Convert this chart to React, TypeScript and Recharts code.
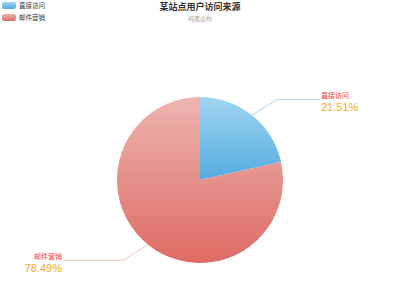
import { PieChart, Pie, Cell } from 'recharts';

// 某站点用户访问来源
const categories = ['直接访问', '邮件营销'];
const visits = [310, 1131];
const topColors = ['#9fd5f2', '#edb5af'];
const bottomColors = ['#55ade0', '#de6b64'];

const title = '某站点用户访问来源';
const subtitle = '纯属虚构';

const chartData = categories.map((name, i) => ({ name, value: visits[i] }));

const RADIAN = Math.PI / 180;
const FONT = '"Liberation Sans", "Noto Sans CJK SC", sans-serif';

function renderLabel(props: any) {
    const { cx, cy, midAngle, outerRadius, percent, name } = props;
    const cos = Math.cos(-midAngle * RADIAN);
    const sin = Math.sin(-midAngle * RADIAN);
    const sx = cx + outerRadius * cos;
    const sy = cy + outerRadius * sin;
    const right = cos >= 0;
    const mx = cx + (outerRadius + 27) * cos + (right ? 8 : -8);
    const my = cy + (outerRadius + 20) * sin;
    const ex = right ? cx + 120 : cx - 137;
    const tx = right ? ex + 1 : ex - 1;
    const anchor = right ? 'start' : 'end';
    const lineColor = right ? '#a9d9f3' : '#f2c3bf';
    return (
        <g>
            <polyline points={`${sx},${sy} ${mx},${my} ${ex},${my}`} fill="none" stroke={lineColor} strokeWidth={1} />
            <text x={tx} y={my - 4} textAnchor={anchor} dominantBaseline="central" fill="#ff3838" fontSize={7} fontFamily={FONT}>
                {name}
            </text>
            <text x={tx} y={my + 7.5} textAnchor={anchor} dominantBaseline="central" fill="#f7a823" fontSize={11} fontFamily={FONT}>
                {(percent * 100).toFixed(2)}%
            </text>
        </g>
    );
}

export default function App() {
    return (
        <div style={{ position: 'absolute', left: 0, top: 0, width: 400, height: 300, background: '#fff', fontFamily: FONT }}>
            {/* 标题 */}
            <div style={{ position: 'absolute', left: 0, top: 1, width: 400, textAlign: 'center', fontSize: 9, fontWeight: 'bold', color: '#333', lineHeight: '12px' }}>
                {title}
            </div>
            <div style={{ position: 'absolute', left: 0, top: 15, width: 400, textAlign: 'center', fontSize: 6, color: '#aaa', lineHeight: '8px' }}>
                {subtitle}
            </div>

            {/* 图例 */}
            <div style={{ position: 'absolute', left: 2, top: 2 }}>
                {categories.map((name, i) => (
                    <div key={name} style={{ display: 'flex', alignItems: 'center', height: 7, marginBottom: 5 }}>
                        <div
                            style={{
                                width: 14,
                                height: 7,
                                borderRadius: 2,
                                background: `linear-gradient(${topColors[i]}, ${bottomColors[i]})`,
                            }}
                        />
                        <span style={{ marginLeft: 3, fontSize: 6.5, color: '#333', lineHeight: '7px' }}>{name}</span>
                    </div>
                ))}
            </div>

            <div style={{ position: 'absolute', left: 0, top: 0 }}>
                <PieChart width={400} height={300} margin={{ top: 0, right: 0, bottom: 0, left: 0 }}>
                    <defs>
                        {categories.map((name, i) => (
                            <linearGradient key={name} id={`grad${i}`} x1="0" y1="0" x2="0" y2="1">
                                <stop offset="0%" stopColor={topColors[i]} />
                                <stop offset="100%" stopColor={bottomColors[i]} />
                            </linearGradient>
                        ))}
                    </defs>
                    <Pie
                        data={chartData}
                        dataKey="value"
                        nameKey="name"
                        cx={200}
                        cy={180}
                        outerRadius={83}
                        startAngle={90}
                        endAngle={-270}
                        stroke="none"
                        label={renderLabel}
                        labelLine={false}
                        isAnimationActive={false}
                    >
                        {chartData.map((d, i) => (
                            <Cell key={d.name} fill={`url(#grad${i})`} />
                        ))}
                    </Pie>
                </PieChart>
            </div>
        </div>
    );
}
